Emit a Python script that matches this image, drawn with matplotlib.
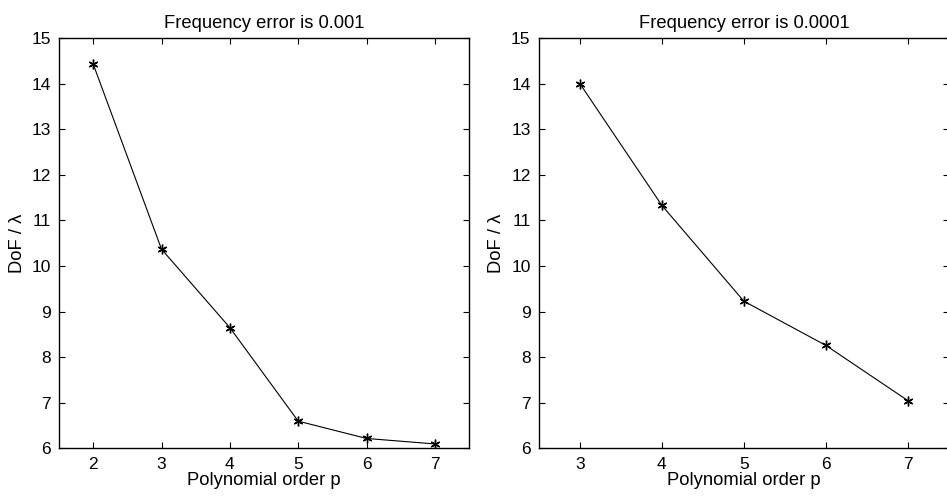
import matplotlib
matplotlib.use("Agg")
import matplotlib.pyplot as plt

plt.rcParams['font.family'] = ['Liberation Sans', 'DejaVu Sans']

p_left = [2, 3, 4, 5, 6, 7]
dof_left = [14.43, 10.37, 8.65, 6.60, 6.22, 6.10]
p_right = [3, 4, 5, 6, 7]
dof_right = [14.00, 11.33, 9.23, 8.26, 7.05]
titles = ["Frequency error is 0.001", "Frequency error is 0.0001"]
xlabel = "Polynomial order p"
ylabel = "DoF / λ"

fig = plt.figure(figsize=(9.47, 4.98), dpi=100)
ax1 = fig.add_axes([0.0623, 0.0994, 0.433, 0.8243])
ax2 = fig.add_axes([0.569, 0.0994, 0.433, 0.8243])

for ax, x, y, t, xl in [(ax1, p_left, dof_left, titles[0], (1.5, 7.5)),
                        (ax2, p_right, dof_right, titles[1], (2.5, 7.5))]:
    ax.plot(x, y, color='black', lw=0.8, marker=(6, 2, 0), ms=7, mew=1.0,
            mfc='black', mec='black')
    ax.set_xlim(*xl)
    ax.set_ylim(6, 15)
    ax.set_xticks(x)
    ax.set_yticks(range(6, 16))
    ax.tick_params(direction='in', top=True, right=True, labelsize=12.5, length=4, width=0.8, pad=6)
    for s in ax.spines.values():
        s.set_linewidth(1.0)
    ax.set_title(t, fontsize=13.2, pad=7)
    ax.set_xlabel(xlabel, fontsize=13.2, labelpad=0)
    ax.set_ylabel(ylabel, fontsize=13.2, labelpad=4)

fig.savefig("out.png", dpi=100)
